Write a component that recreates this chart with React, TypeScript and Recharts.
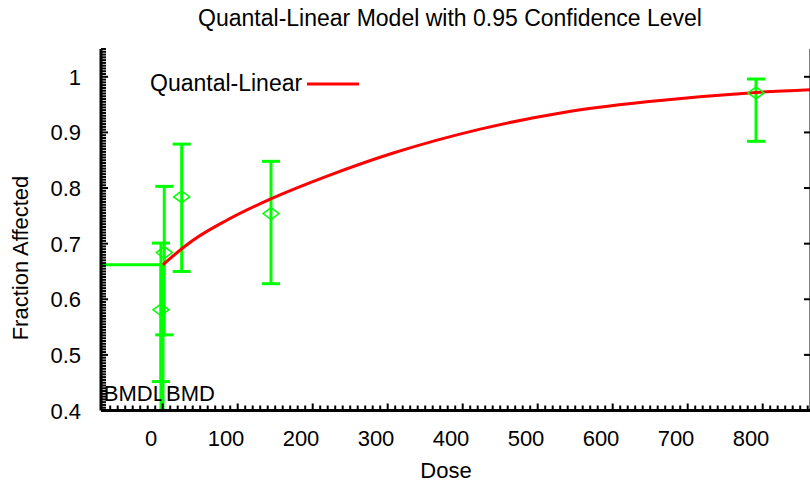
import {
  ComposedChart,
  Line,
  Scatter,
  ErrorBar,
  XAxis,
  YAxis,
  ReferenceLine,
  Legend,
} from "recharts";

const FONT = "'Liberation Sans', Arial, Helvetica, sans-serif";
const GREEN = "#00ff00";
const RED = "#ff0000";

// observed groups
const DOSE = [13.3, 17.7, 40.9, 160, 806.7];
const OBSERVED = [0.581, 0.684, 0.784, 0.754, 0.971];
const LOWER = [0.452, 0.536, 0.65, 0.628, 0.884];
const UPPER = [0.701, 0.803, 0.879, 0.848, 0.996];

// fitted quantal-linear curve
const CURVE_DOSE = [16, 21, 56, 101, 159, 234, 323, 439, 550, 661, 807, 880];
const CURVE_FIT = [0.662, 0.668, 0.706, 0.742, 0.780, 0.821, 0.863, 0.906, 0.936, 0.955, 0.972, 0.977];

const BMD = 16;
const BMDL = 13.3;
const BMR_LEVEL = 0.662;

const X_LABELS = [0, 100, 200, 300, 400, 500, 600, 700, 800];
const Y_LABELS = [0.4, 0.5, 0.6, 0.7, 0.8, 0.9, 1];
const X_DOMAIN: [number, number] = [-66.67, 880];
const Y_DOMAIN: [number, number] = [0.4, 1.05];

// tick marks sit a little right of the x labels in the original plot
const X_TICK_SHIFT = 11.7;

const xMinor: number[] = [];
for (let v = -70; v <= 870; v += 10) xMinor.push(v);
const yMinor: number[] = [];
for (let i = 0; i <= 130; i++) yMinor.push(+(0.4 + i * 0.005).toFixed(3));

const points = DOSE.map((d, i) => ({
  dose: d,
  frac: OBSERVED[i],
  err: [OBSERVED[i] - LOWER[i], UPPER[i] - OBSERVED[i]],
}));
const curve = CURVE_DOSE.map((d, i) => ({ dose: d, fit: CURVE_FIT[i] }));

const isMajorY = (v: number) => Math.abs(v * 10 - Math.round(v * 10)) < 1e-6;

const BottomTick = (props: any) => {
  const { x, y, payload } = props;
  const v = payload.value;
  const major = v % 100 === 0;
  return (
    <g>
      <line x1={x + X_TICK_SHIFT} x2={x + X_TICK_SHIFT} y1={y} y2={y - (major ? 7 : 5)} stroke="#000" strokeWidth={2} />
      {major && X_LABELS.includes(v) && (
        <text x={x} y={y + 35.5} textAnchor="middle" fontSize={22} fontFamily={FONT} fill="#000">
          {v}
        </text>
      )}
    </g>
  );
};

const TopTick = (props: any) => {
  const { x, y, payload } = props;
  const major = payload.value % 100 === 0;
  return <line x1={x + X_TICK_SHIFT} x2={x + X_TICK_SHIFT} y1={y} y2={y + (major ? 7 : 5)} stroke="#000" strokeWidth={2} />;
};

const LeftTick = (props: any) => {
  const { x, y, payload } = props;
  const v = payload.value;
  const major = isMajorY(v);
  const label = Y_LABELS.find((l) => Math.abs(l - v) < 1e-6);
  return (
    <g>
      <line x1={x} x2={x + (major ? 7 : 5)} y1={y} y2={y} stroke="#000" strokeWidth={2} />
      {label !== undefined && (
        <text x={x - 20} y={y + 8} textAnchor="end" fontSize={22} fontFamily={FONT} fill="#000">
          {label === 1 ? "1" : label.toFixed(1)}
        </text>
      )}
    </g>
  );
};

const RightTick = (props: any) => {
  const { x, y } = props;
  return <line x1={x} x2={x - 7} y1={y} y2={y} stroke="#000" strokeWidth={2} />;
};

const Diamond = (props: any) => {
  const { cx, cy } = props;
  return (
    <polygon
      points={`${cx - 8},${cy} ${cx},${cy - 6} ${cx + 8},${cy} ${cx},${cy + 6}`}
      fill="none"
      stroke={GREEN}
      strokeWidth={1.5}
    />
  );
};

const DoseLabel = (props: any) => {
  const { viewBox } = props;
  return (
    <text x={viewBox.x + viewBox.width / 2 - 10} y={viewBox.y + 67.5} textAnchor="middle" fontSize={22} fontFamily={FONT} fill="#000">
      Dose
    </text>
  );
};

const FractionLabel = () => (
  <text x={28} y={258} transform="rotate(-90, 28, 258)" textAnchor="middle" fontSize={22} fontFamily={FONT} fill="#000">
    Fraction Affected
  </text>
);

const BmdlText = (props: any) => {
  const { viewBox } = props;
  return (
    <text x={viewBox.x + 4} y={viewBox.y + viewBox.height - 10} textAnchor="end" fontSize={22} fontFamily={FONT} fill="#000">
      BMDL
    </text>
  );
};

const BmdText = (props: any) => {
  const { viewBox } = props;
  return (
    <text x={viewBox.x + 3} y={viewBox.y + viewBox.height - 10} textAnchor="start" fontSize={22} fontFamily={FONT} fill="#000">
      BMD
    </text>
  );
};

const renderLegend = (props: any) => {
  const items = (props.payload || []).filter((p: any) => p.type !== "none");
  return (
    <div style={{ display: "flex", alignItems: "center", fontSize: 23, fontFamily: FONT, color: "#000", whiteSpace: "nowrap" }}>
      {items.map((it: any) => (
        <span key={it.value} style={{ display: "flex", alignItems: "center" }}>
          {it.value}
          <svg width={56} height={10} style={{ marginLeft: 5 }}>
            <line x1={0} x2={52} y1={5} y2={5} stroke={it.color} strokeWidth={3} />
          </svg>
        </span>
      ))}
    </div>
  );
};

export default function App() {
  return (
    <div
      style={{
        position: "absolute",
        left: 0,
        top: 0,
        width: 810,
        height: 482,
        overflow: "hidden",
        background: "#fff",
        fontFamily: FONT,
      }}
    >
      <div
        style={{
          position: "absolute",
          left: 0,
          top: 5,
          width: 900,
          textAlign: "center",
          fontSize: 23,
          lineHeight: "26px",
          color: "#000",
        }}
      >
        Quantal-Linear Model with 0.95 Confidence Level
      </div>
      <ComposedChart width={830} height={482} margin={{ top: 49, right: 0, bottom: 0, left: 0 }}>
        <XAxis
          dataKey="dose"
          type="number"
          domain={X_DOMAIN}
          allowDataOverflow
          ticks={xMinor}
          interval={0}
          height={71.5}
          tickSize={0}
          tickMargin={0}
          tickLine={false}
          tick={<BottomTick />}
          axisLine={{ stroke: "#000", strokeWidth: 3 }}
          label={{ content: <DoseLabel /> }}
        />
        <XAxis
          xAxisId="top"
          orientation="top"
          type="number"
          domain={X_DOMAIN}
          allowDataOverflow
          ticks={xMinor}
          interval={0}
          height={0}
          tickSize={0}
          tickMargin={0}
          tickLine={false}
          tick={<TopTick />}
          axisLine={{ stroke: "#000", strokeWidth: 3 }}
        />
        <YAxis
          type="number"
          domain={Y_DOMAIN}
          allowDataOverflow
          ticks={yMinor}
          interval={0}
          width={101}
          tickSize={0}
          tickMargin={0}
          tickLine={false}
          tick={<LeftTick />}
          axisLine={{ stroke: "#000", strokeWidth: 3 }}
          label={{ content: <FractionLabel /> }}
        />
        <YAxis
          yAxisId="right"
          orientation="right"
          type="number"
          domain={Y_DOMAIN}
          allowDataOverflow
          ticks={Y_LABELS}
          interval={0}
          width={19}
          tickSize={0}
          tickMargin={0}
          tickLine={false}
          tick={<RightTick />}
          axisLine={{ stroke: "#000", strokeWidth: 3 }}
        />
        <Legend
          layout="horizontal"
          verticalAlign="middle"
          align="center"
          content={renderLegend}
          wrapperStyle={{ left: 150, top: 70, width: 240, height: 30 }}
        />
        <ReferenceLine
          segment={[
            { x: X_DOMAIN[0], y: BMR_LEVEL },
            { x: BMD, y: BMR_LEVEL },
          ]}
          stroke={GREEN}
          strokeWidth={3}
          ifOverflow="visible"
        />
        <ReferenceLine
          segment={[
            { x: BMDL, y: BMR_LEVEL },
            { x: BMDL, y: Y_DOMAIN[0] },
          ]}
          stroke={GREEN}
          strokeWidth={3}
          label={{ content: <BmdlText /> }}
        />
        <ReferenceLine
          segment={[
            { x: BMD, y: BMR_LEVEL },
            { x: BMD, y: Y_DOMAIN[0] },
          ]}
          stroke={GREEN}
          strokeWidth={3}
          label={{ content: <BmdText /> }}
        />
        <Scatter data={points} dataKey="frac" shape={<Diamond />} legendType="none" isAnimationActive={false}>
          <ErrorBar dataKey="err" direction="y" width={9} stroke={GREEN} strokeWidth={3} isAnimationActive={false} />
        </Scatter>
        <Line
          data={curve}
          dataKey="fit"
          name="Quantal-Linear"
          type="monotone"
          stroke={RED}
          strokeWidth={3}
          dot={false}
          activeDot={false}
          isAnimationActive={false}
        />
      </ComposedChart>
    </div>
  );
}
